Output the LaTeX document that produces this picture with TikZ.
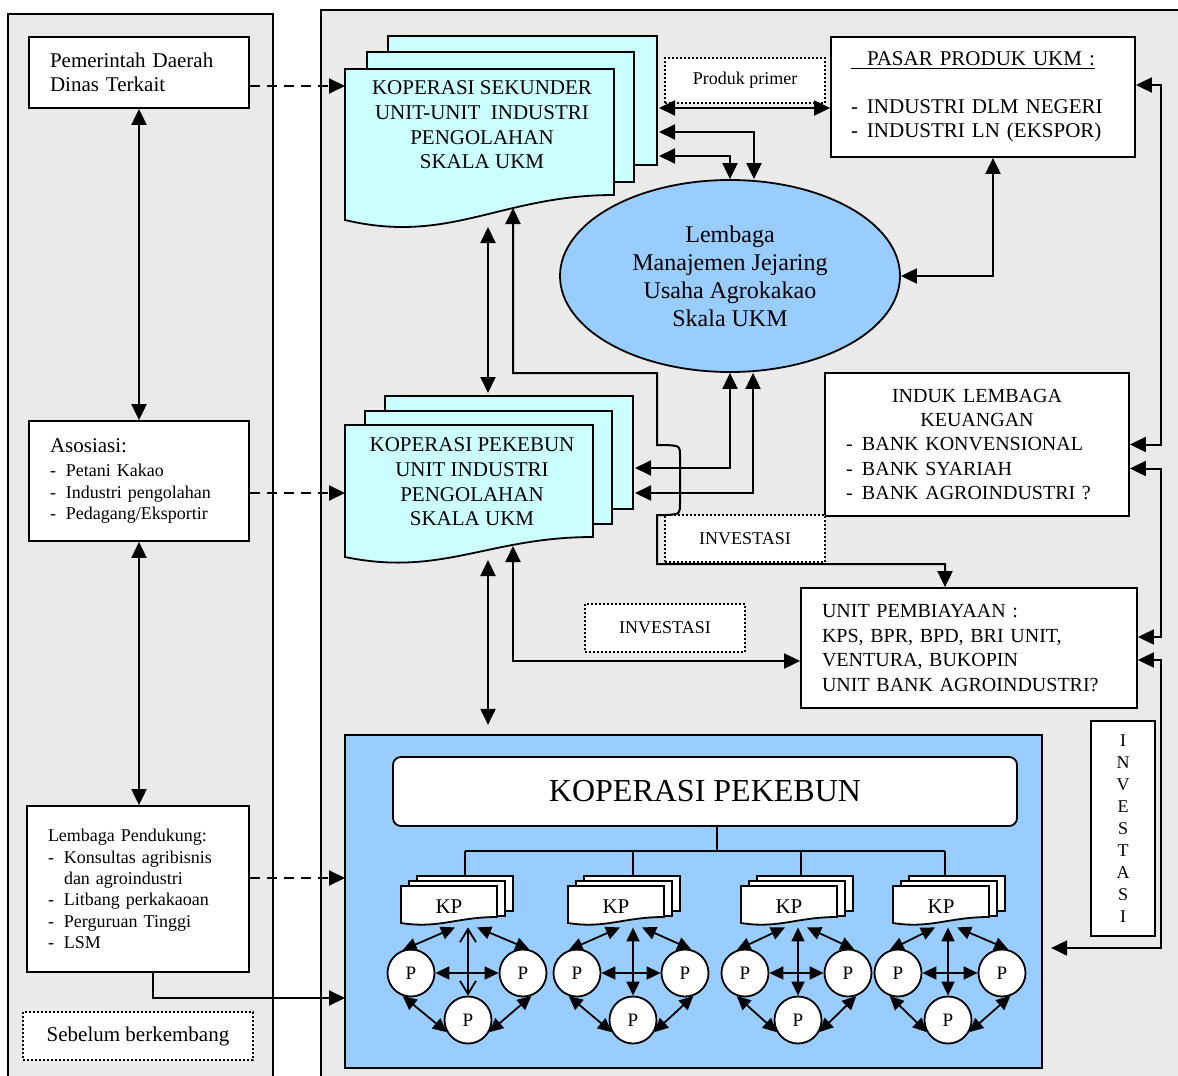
\documentclass[tikz,border=0pt]{standalone}
\usepackage{fontspec}
\setmainfont{Liberation Serif}
\usetikzlibrary{arrows.meta,positioning,shapes.geometric,calc}
\definecolor{panelgray}{HTML}{EAEAEA}
\definecolor{paper}{HTML}{CCFFFF}
\definecolor{skyblue}{HTML}{99CCFF}

\newcommand{\txtnorm}{\fontsize{10.5pt}{12.3pt}\selectfont}
\newcommand{\txtbank}{\fontsize{10pt}{12.2pt}\selectfont}
\newcommand{\txtsmall}{\fontsize{9pt}{10.7pt}\selectfont}
\newcommand{\txtell}{\fontsize{12pt}{14pt}\selectfont}
\newcommand{\txtbig}{\fontsize{16pt}{18pt}\selectfont}
\newcommand{\txtp}{\fontsize{9.5pt}{10pt}\selectfont}
\newcommand{\dashitem}{\makebox[8pt][l]{-}}

% one page with a wavy lower edge: left, top, right, lower-left y, lower-right y, fill
\newcommand{\docpage}[6]{%
  \pgfmathsetmacro{\wavea}{(#1)+0.58*((#3)-(#1))}%
  \pgfmathsetmacro{\waveb}{(#1)+0.39*((#3)-(#1))}%
  \pgfmathsetmacro{\wavec}{2*(#4)-(#5)}%
  \filldraw[page,fill=#6] ({#1},{#2}) -- ({#3},{#2}) -- ({#3},{#5})
    .. controls (\wavea,{#5}) and (\waveb,\wavec) .. ({#1},{#4}) -- cycle;
}

\begin{document}
\begin{tikzpicture}[x=0.5pt,y=-0.5pt,
  panel/.style={draw,fill=panelgray,line width=0.9pt},
  page/.style={draw,line width=0.9pt},
  box/.style={draw,fill=white,line width=0.9pt,inner sep=0pt,font=\txtnorm},
  lbox/.style={box,align=left,inner xsep=10.5pt},
  dotbox/.style={draw,fill=white,line width=0.8pt,dash pattern=on 1pt off 1pt,inner sep=0pt,align=center,font=\txtsmall},
  pnode/.style={circle,draw,fill=white,line width=0.9pt,minimum size=23.5pt,inner sep=0pt,font=\txtp},
  kpnode/.style={minimum width=48pt,minimum height=20.5pt,inner sep=0pt,font=\txtnorm},
  dar/.style={{Triangle[length=8pt,width=7.5pt]}-{Triangle[length=8pt,width=7.5pt]},line width=1pt},
  sar/.style={-{Triangle[length=8pt,width=7.5pt]},line width=1pt},
  dsh/.style={sar,dash pattern=on 5pt off 3.5pt},
  sdar/.style={{Triangle[length=7pt,width=6.5pt]}-{Triangle[length=7pt,width=6.5pt]},line width=0.9pt},
  bdar/.style={{Straight Barb[length=6.5pt,width=8pt]}-{Straight Barb[length=6.5pt,width=8pt]},line width=0.9pt},
  tree/.style={line width=0.7pt}]
  \useasboundingbox (0,0) rectangle (1178,1076);
  \clip (0,0) rectangle (1178,1076);

  % two panels
  \draw[panel] (8,14) rectangle (273,1090);
  \draw[panel] (321,10) rectangle (1190,1090);

  % left column
  \node[lbox,minimum width=110pt,minimum height=35.5pt,text width=89pt] (pemda) at (139,72.5) {Pemerintah Daerah\\Dinas Terkait};
  \node[lbox,font=\txtsmall,minimum width=110pt,minimum height=60pt,text width=89pt] (asosiasi) at (139,481)
    {{\txtnorm Asosiasi:}\\[1.3pt]\dashitem Petani Kakao\\\dashitem Industri pengolahan\\\dashitem Pedagang/Eksportir};
  \node[lbox,font=\txtsmall,minimum width=111pt,minimum height=83pt,text width=90pt] (lpend) at (138,889)
    {Lembaga Pendukung:\\\dashitem Konsultas agribisnis\\\hspace*{8pt}dan agroindustri\\\dashitem Litbang perkakaoan\\\dashitem Perguruan Tinggi\\\dashitem LSM\\[3pt]};
  \node[dotbox,font=\txtnorm,minimum width=115pt,minimum height=24pt] (sebelum) at (138,1036) {Sebelum berkembang};

  % right column boxes
  \node[lbox,minimum width=152pt,minimum height=60pt,text width=132pt,inner xsep=10pt] (pasar) at (983,97)
    {\underline{\hspace{8pt}PASAR PRODUK UKM :}\\[11.5pt]\dashitem INDUSTRI DLM NEGERI\\\dashitem INDUSTRI LN (EKSPOR)};
  \node[lbox,font=\txtbank,minimum width=152pt,minimum height=71.5pt,text width=131pt] (induk) at (977,444.5)
    {\makebox[131pt]{INDUK LEMBAGA}\\\makebox[131pt]{KEUANGAN}\\\dashitem BANK KONVENSIONAL\\\dashitem BANK SYARIAH\\\dashitem BANK AGROINDUSTRI ?};
  \node[lbox,font=\txtbank,minimum width=168pt,minimum height=60pt,text width=147pt] (unit) at (969,648)
    {UNIT PEMBIAYAAN :\\KPS, BPR, BPD, BRI UNIT,\\VENTURA, BUKOPIN\\UNIT BANK AGROINDUSTRI?};
  \node[box,font=\fontsize{9pt}{10.95pt}\selectfont,align=center,minimum width=32pt,minimum height=107.5pt] (invv) at (1123,828.5)
    {I\\N\\V\\E\\S\\T\\A\\S\\I};
  \node[dotbox,minimum width=80pt,minimum height=22.5pt] (prim) at (745,80.5) {Produk primer};
  \node[dotbox,minimum width=80pt,minimum height=23.5pt] (inv1) at (745,538.5) {INVESTASI};
  \node[dotbox,minimum width=80pt,minimum height=24pt] (inv2) at (665,628) {INVESTASI};

  % stacked pages
  \filldraw[page,fill=paper] (388,36) rectangle (657,165);
  \filldraw[page,fill=paper] (367,52) rectangle (634,182);
  \docpage{345}{69}{614}{220}{195}{paper}
  \node[align=center,font=\txtnorm] (sekunder) at (482,125)
    {KOPERASI SEKUNDER\\UNIT-UNIT\ \ INDUSTRI\\PENGOLAHAN\\SKALA UKM};
  \filldraw[page,fill=paper] (385,396) rectangle (633,509);
  \filldraw[page,fill=paper] (365,411) rectangle (612,524);
  \docpage{345}{425}{593}{557}{537}{paper}
  \node[align=center,font=\txtnorm] (pekebun) at (472,482)
    {KOPERASI PEKEBUN\\UNIT INDUSTRI\\PENGOLAHAN\\SKALA UKM};

  \node[ellipse,draw,fill=skyblue,line width=0.9pt,minimum width=170pt,minimum height=96pt,inner sep=0pt,align=center,font=\txtell] (lmj) at (730,276)
    {Lembaga\\Manajemen Jejaring\\Usaha Agrokakao\\Skala UKM};

  \coordinate (sekW) at (345,86);
  \coordinate (sekE1) at (659,108);
  \coordinate (sekE2) at (659,132);
  \coordinate (sekE3) at (659,156);
  \coordinate (sekB1) at (488,227);
  \coordinate (sekB2) at (513,208);
  \coordinate (pekW) at (345,493);
  \coordinate (pekT1) at (488,393);
  \coordinate (pekE1) at (635,468);
  \coordinate (pekE2) at (635,493);
  \coordinate (pekB1) at (488,560);
  \coordinate (pekB2) at (513,546);
  \coordinate (bigW) at (345,878);
  \coordinate (bigW2) at (345,998);

  % big blue box
  \node[draw,fill=skyblue,line width=1.1pt,minimum width=348.5pt,minimum height=166.5pt] (bigbox) at (693.5,901.5) {};
  \node[box,rounded corners=4pt,font=\txtbig,minimum width=312pt,minimum height=34.5pt] (kpmain) at (705,791.5) {KOPERASI PEKEBUN};
  \coordinate (tj) at (717,851);
  \draw[tree] (kpmain.south -| tj) -- (tj);
  \draw[tree] (465,851) -- (945,851);
  \foreach \i/\fx/\tx/\pl/\pr/\pb/\vt in {1/401/465/411/523/468/bdar,2/568/633/577/685/633/sdar,3/741/801/745/848/798/sdar,4/893/945/898/1002/948/sdar}{
    \filldraw[page,fill=white] ({\fx+16},876) rectangle ({\fx+112},911);
    \filldraw[page,fill=white] ({\fx+8},881) rectangle ({\fx+104},916);
    \docpage{\fx}{886}{\fx+96}{923}{917}{white}
    \node[kpnode] (kp\i) at ({\fx+48},906.5) {KP};
    \node[pnode] (pl\i) at (\pl,973) {P};
    \node[pnode] (pr\i) at (\pr,973) {P};
    \node[pnode] (pb\i) at (\pb,1020) {P};
    \coordinate (kt\i) at (\tx,876);
    \draw[tree] (kt\i |- tj) -- (kt\i);
    \draw[sdar] ($(pb\i.north |- kp\i.south)+(-13,0)$) -- (pl\i.110);
    \draw[sdar] ($(pb\i.north |- kp\i.south)+(9,0)$) -- (pr\i.75);
    \draw[\vt] (pb\i.north |- kp\i.south) -- (pb\i.north);
    \draw[sdar] (pl\i.east) -- (pr\i.west);
    \draw[sdar] (pl\i.-110) -- (pb\i.210);
    \draw[sdar] (pr\i.-70) -- (pb\i.-30);
  }

  % connectors
  \draw[dar] (pemda.south) -- (asosiasi.north);
  \draw[dar] (asosiasi.south) -- (lpend.north -| asosiasi.south);
  \draw[dsh] (pemda.east |- sekW) -- (sekW);
  \draw[dsh] (asosiasi.east |- pekW) -- (pekW);
  \draw[dsh] (lpend.east |- bigW) -- (bigW);
  \draw[sar] ($(lpend.south)+(15,0)$) |- (bigW2);

  \draw[dar] (sekE1) -- (pasar.west |- sekE1);
  \draw[dar] (sekE2) -| ($(lmj.north)+(24,0)$);
  \draw[dar] (sekE3) -| (lmj.north);
  \draw[dar] (lmj.east) -| ($(pasar.south)+(10,0)$);
  \draw[dar] ($(pasar.east)+(0,-12)$) -- ++(25,0) |- (induk.east);
  \draw[dar] ($(induk.east)+(0,24)$) -- ++(31,0) |- ($(unit.east)+(0,-11)$);
  \draw[dar] ($(unit.east)+(0,12)$) -- ++(23,0) |- ($(bigbox.east)+(8,46.5)$);

  \draw[dar] (sekB1) -- (pekT1);
  \draw[dar] (pekB1) -- ($(bigbox.north -| pekB1)+(0,-9)$);
  \draw[dar] (pekE1) -| (lmj.south);
  \draw[dar] (pekE2) -| ($(lmj.south)+(23,0)$);
  \draw[dar] (pekB2) |- ($(unit.west)+(0,13)$);
  \draw[dar] (sekB2) -- (513,373) -- (657,373) -- (657,445) -- (667,445)
    .. controls (680,446) .. (680,456) -- (680,503) .. controls (680,514) .. (667,515)
    -- (657,515) -- (657,564) -| ($(unit.north)+(-24,0)$);
\end{tikzpicture}
\end{document}
